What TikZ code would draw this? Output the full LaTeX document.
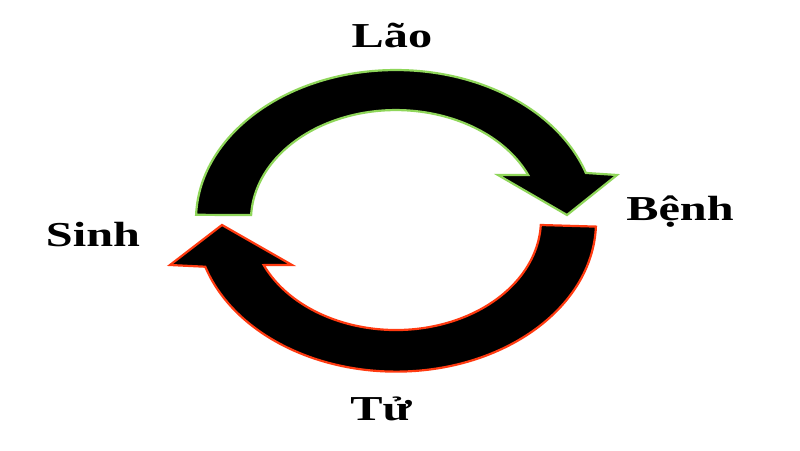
\documentclass[tikz,border=0pt]{standalone}
\usepackage{fontspec}
\setmainfont{Liberation Serif}
\definecolor{arrgreen}{HTML}{8FD65A}
\definecolor{arrred}{HTML}{FF3A10}
\tikzset{
  bigarrow/.style={fill=black, line width=2.2pt, line join=miter},
  lbl/.style={anchor=base, inner sep=0pt, font=\fontsize{35}{40}\selectfont\bfseries}
}
\newcommand{\wide}[1]{\scalebox{1.38}[1]{#1}}
\begin{document}
\begin{tikzpicture}[x=1pt,y=1pt]
\useasboundingbox (0,0) rectangle (800,450);
\fill[white] (0,0) rectangle (800,450);
% upper arrow (green outline)
\draw[bigarrow, draw=arrgreen] (196.1,235.2)
  arc[start angle=178, end angle=18.3, x radius=200, y radius=150]
  -- (617,275) -- (567,235) -- (498,275) -- (528.2,275)
  arc[start angle=24.2, end angle=177.4, x radius=145, y radius=110]
  -- cycle;
% lower arrow (red outline)
\draw[bigarrow, draw=arrred] (595.9,223.4)
  arc[start angle=-1.9, end angle=-162.5, x radius=200, y radius=150]
  -- (170,185) -- (222,225) -- (292,185) -- (263.7,184.9)
  arc[start angle=-155.8, end angle=-2.6, x radius=145, y radius=110]
  -- cycle;
% labels
\node[lbl] (lao) at (392,402) {\wide{Lão}};
\node[lbl] (benh) at (680,229) {\wide{Bệnh}};
\node[lbl] (sinh) at (93,203) {\wide{Sinh}};
\node[lbl] (tu) at (381,30) {\wide{Tử}};
\end{tikzpicture}
\end{document}
